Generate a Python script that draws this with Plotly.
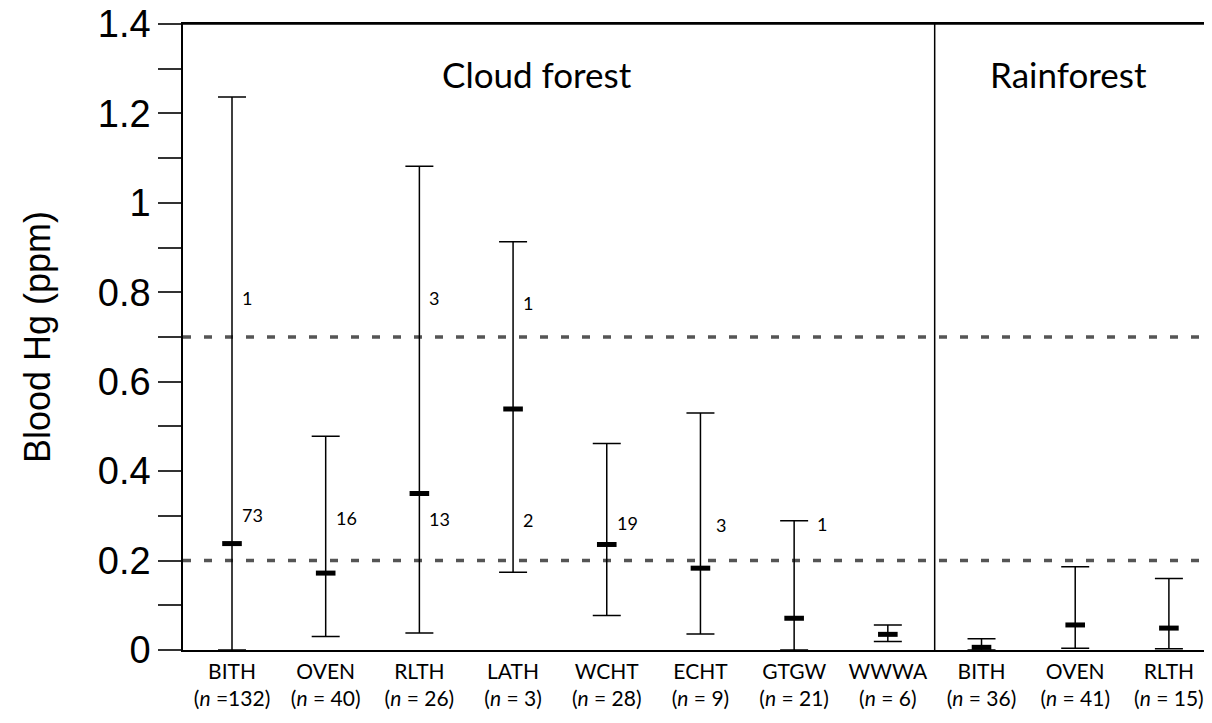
import plotly.graph_objects as go

# ---- data ----
species = ["BITH", "OVEN", "RLTH", "LATH", "WCHT", "ECHT", "GTGW", "WWWA", "BITH", "OVEN", "RLTH"]
n_vals = [132, 40, 26, 3, 28, 9, 21, 6, 36, 41, 15]
habitat = ["Cloud forest"] * 8 + ["Rainforest"] * 3
hg_mean = [0.238, 0.172, 0.350, 0.539, 0.236, 0.183, 0.071, 0.035, 0.006, 0.056, 0.049]
hg_min = [0.0, 0.030, 0.038, 0.174, 0.077, 0.036, 0.0, 0.019, 0.0, 0.004, 0.003]
hg_max = [1.237, 0.478, 1.082, 0.913, 0.462, 0.530, 0.289, 0.056, 0.025, 0.186, 0.160]
thresholds = [0.2, 0.7]

# count labels: (category index, y value, text)
count_idx = [0, 0, 1, 2, 2, 3, 3, 4, 5, 6]
count_y = [0.787, 0.302, 0.296, 0.787, 0.292, 0.776, 0.290, 0.285, 0.279, 0.281]
count_txt = ["1", "73", "16", "3", "13", "1", "2", "19", "3", "1"]

y_tickvals = [0, 0.2, 0.4, 0.6, 0.8, 1.0, 1.2, 1.4]
y_ticktext = ["0", "0.2", "0.4", "0.6", "0.8", "1", "1.2", "1.4"]

x = list(range(len(species)))
tick_text = []
for i, (s, n) in enumerate(zip(species, n_vals)):
    sep = " =" if n >= 100 else " = "
    tick_text.append(f"{s}<br>(<i>n</i>{sep}{n})")

fig = go.Figure()

# threshold dashed lines
for t in thresholds:
    fig.add_shape(type="line", xref="paper", yref="y", x0=0, x1=1, y0=t, y1=t,
                  line=dict(color="#555555", width=3.5, dash="8px,13px"), layer="below")

# top frame line
fig.add_shape(type="line", xref="paper", yref="paper", x0=0, x1=1, y0=1, y1=1,
              line=dict(color="black", width=1.5))

# habitat divider
fig.add_shape(type="line", xref="x", yref="y", x0=7.5, x1=7.5, y0=-0.008, y1=1.4,
              line=dict(color="black", width=1.5))

fig.add_trace(go.Scatter(
    x=x, y=hg_mean, mode="markers",
    marker=dict(symbol="line-ew-open", size=14, color="black", line=dict(color="black", width=5)),
    error_y=dict(type="data", symmetric=False,
                 array=[mx - m for mx, m in zip(hg_max, hg_mean)],
                 arrayminus=[m - mn for m, mn in zip(hg_mean, hg_min)],
                 width=14, thickness=1.5, color="black"),
    showlegend=False, hoverinfo="skip", cliponaxis=False,
))

label_font = "Lato, 'Open Sans', sans-serif"
xshift_for = {5: 14, 6: 21}
for i, yv, t in zip(count_idx, count_y, count_txt):
    fig.add_annotation(x=i, y=yv, text=t, showarrow=False, xanchor="left", yanchor="middle",
                       xshift=xshift_for.get(i, 8), font=dict(size=18, color="black", family=label_font))

# habitat headings
fig.add_annotation(x=3.255, y=1.288, text="Cloud forest", showarrow=False,
                   font=dict(size=35, color="black", family=label_font))
fig.add_annotation(x=8.93, y=1.288, text="Rainforest", showarrow=False,
                   font=dict(size=35, color="black", family=label_font))

# page body has an 8px margin, so the figure is sized/margined to compensate
fig.update_layout(
    width=1204, height=715,
    margin=dict(l=175, r=0, t=16, b=73, autoexpand=False),
    paper_bgcolor="white", plot_bgcolor="white",
    xaxis=dict(range=[-0.523, 10.46], tickvals=x, ticktext=tick_text, automargin=False,
               showline=True, linecolor="black", linewidth=1.5, mirror=True,
               ticks="", showgrid=False, zeroline=False, ticklabelstandoff=2,
               ticklabeloverflow="allow",
               tickfont=dict(size=21, color="black", family=label_font)),
    yaxis=dict(range=[0, 1.4], tickvals=y_tickvals, ticktext=y_ticktext, automargin=False,
               showline=True, linecolor="black", linewidth=1.5,
               ticks="outside", ticklen=23, tickwidth=1.5, tickcolor="#333",
               minor=dict(dtick=0.1, ticks="outside", ticklen=23, tickwidth=1.5, tickcolor="#333"),
               showgrid=False, zeroline=False, ticklabeloverflow="allow",
               tickfont=dict(size=38, color="black", family="'Liberation Sans', Arial, sans-serif"),
               title=dict(text="Blood Hg (ppm)", standoff=36,
                          font=dict(size=36, color="black", family="'Liberation Sans', Arial, sans-serif"))),
)

fig.write_html("out.html")
